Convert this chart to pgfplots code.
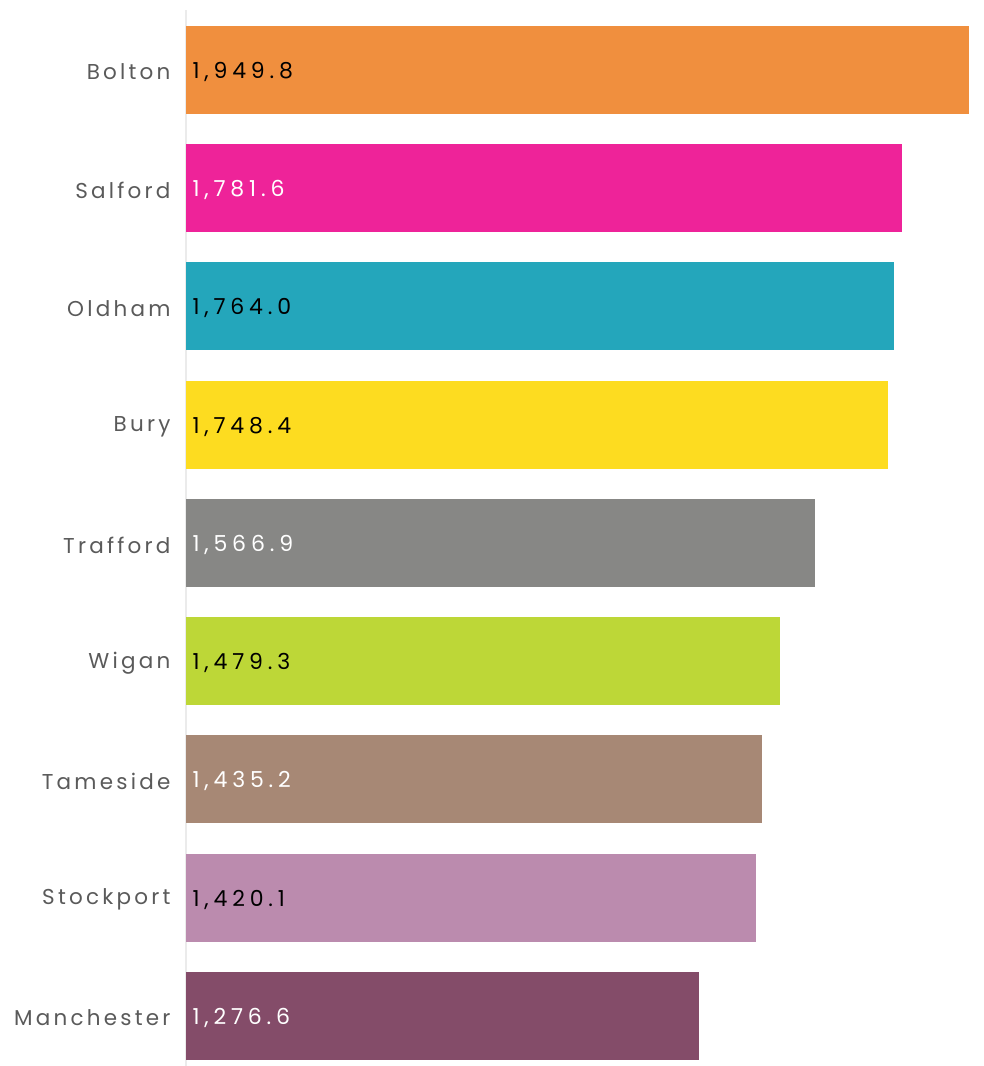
\documentclass[border=0pt]{standalone}
\usepackage{pgfplots}
\pgfplotsset{compat=1.18}
\usepackage{fontspec}
\setmainfont{Poppins}[LetterSpace=15]
\newfontfamily\numfont{Poppins}[LetterSpace=22]
\definecolor{cBolton}{HTML}{F08F3E}
\definecolor{cSalford}{HTML}{EE2399}
\definecolor{cOldham}{HTML}{24A6BB}
\definecolor{cBury}{HTML}{FDDC20}
\definecolor{cTrafford}{HTML}{878785}
\definecolor{cWigan}{HTML}{BDD737}
\definecolor{cTameside}{HTML}{A78875}
\definecolor{cStockport}{HTML}{BB8BAE}
\definecolor{cManchester}{HTML}{844C69}
\definecolor{lblgray}{HTML}{5A5A5A}
\begin{document}
\begin{tikzpicture}
\useasboundingbox (0,0) rectangle (984pt,1066pt);
\begin{axis}[
  at={(186pt,0pt)}, anchor=south west,
  width=798pt, height=1056pt, scale only axis,
  xmin=0, xmax=1987, ymin=-0.423, ymax=8.507,
  axis x line=none,
  axis y line=left,
  y axis line style={-, draw=black!8, line width=1.2pt},
  ytick={0,1,2,3,4,5,6,7,8},
  yticklabels={Manchester,Stockport,Tameside,Wigan,Trafford,Bury,Oldham,Salford,Bolton},
  major tick length=0pt,
  yticklabel style={font=\fontsize{21.5}{24}\selectfont, text=lblgray, xshift=-12pt, yshift=-2pt},
  clip=false,
  every node near coord/.append style={font=\numfont\fontsize{22}{24}\selectfont, anchor=west, xshift=3pt, yshift=-2pt},
]
\addplot[xbar, bar width=88pt, bar shift=0pt, fill=cBolton, draw=none] coordinates {(1949.8,8)};
\addplot[xbar, bar width=88pt, bar shift=0pt, fill=cSalford, draw=none] coordinates {(1781.6,7)};
\addplot[xbar, bar width=88pt, bar shift=0pt, fill=cOldham, draw=none] coordinates {(1764.0,6)};
\addplot[xbar, bar width=88pt, bar shift=0pt, fill=cBury, draw=none] coordinates {(1748.4,5)};
\addplot[xbar, bar width=88pt, bar shift=0pt, fill=cTrafford, draw=none] coordinates {(1566.9,4)};
\addplot[xbar, bar width=88pt, bar shift=0pt, fill=cWigan, draw=none] coordinates {(1479.3,3)};
\addplot[xbar, bar width=88pt, bar shift=0pt, fill=cTameside, draw=none] coordinates {(1435.2,2)};
\addplot[xbar, bar width=88pt, bar shift=0pt, fill=cStockport, draw=none] coordinates {(1420.1,1)};
\addplot[xbar, bar width=88pt, bar shift=0pt, fill=cManchester, draw=none] coordinates {(1276.6,0)};
\addplot[draw=none, mark=none, nodes near coords={1,949.8}, nodes near coords style={text=black}] coordinates {(0,8)};
\addplot[draw=none, mark=none, nodes near coords={1,781.6}, nodes near coords style={text=white}] coordinates {(0,7)};
\addplot[draw=none, mark=none, nodes near coords={1,764.0}, nodes near coords style={text=black}] coordinates {(0,6)};
\addplot[draw=none, mark=none, nodes near coords={1,748.4}, nodes near coords style={text=black}] coordinates {(0,5)};
\addplot[draw=none, mark=none, nodes near coords={1,566.9}, nodes near coords style={text=white}] coordinates {(0,4)};
\addplot[draw=none, mark=none, nodes near coords={1,479.3}, nodes near coords style={text=black}] coordinates {(0,3)};
\addplot[draw=none, mark=none, nodes near coords={1,435.2}, nodes near coords style={text=white}] coordinates {(0,2)};
\addplot[draw=none, mark=none, nodes near coords={1,420.1}, nodes near coords style={text=black}] coordinates {(0,1)};
\addplot[draw=none, mark=none, nodes near coords={1,276.6}, nodes near coords style={text=white}] coordinates {(0,0)};
\end{axis}
\end{tikzpicture}
\end{document}
